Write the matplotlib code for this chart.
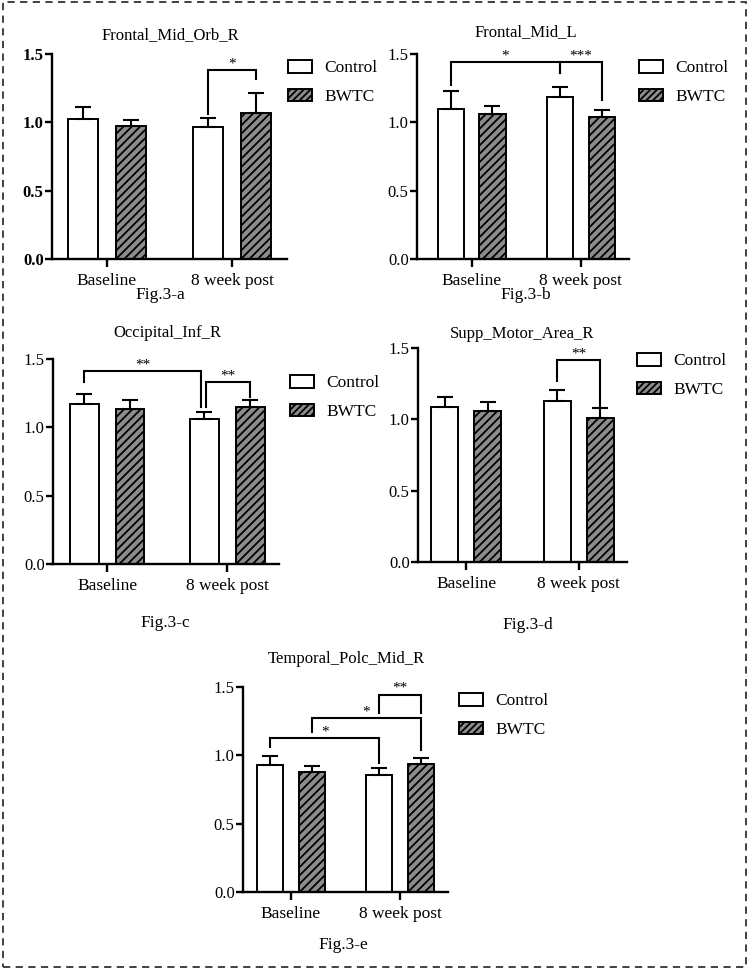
import matplotlib
matplotlib.use("Agg")
import matplotlib.pyplot as plt
from matplotlib.patches import Patch, Rectangle
import numpy as np

plt.rcParams['font.family'] = ['Liberation Serif', 'DejaVu Serif']
plt.rcParams['hatch.linewidth'] = 1.3
plt.rcParams['hatch.color'] = 'black'

W, H = 749, 969

groups = ["Baseline", "8 week post"]
series = ["Control", "BWTC"]

titles = ["Frontal_Mid_Orb_R", "Frontal_Mid_L", "Occipital_Inf_R",
          "Supp_Motor_Area_R", "Temporal_Polc_Mid_R"]
fig_labels = ["Fig.3-a", "Fig.3-b", "Fig.3-c", "Fig.3-d", "Fig.3-e"]

control_mean = [[1.026, 0.966], [1.100, 1.188], [1.173, 1.061], [1.083, 1.130], [0.927, 0.856]]
control_err = [[0.084, 0.063], [0.130, 0.073], [0.073, 0.049], [0.072, 0.075], [0.066, 0.049]]
bwtc_mean = [[0.975, 1.068], [1.059, 1.040], [1.132, 1.149], [1.059, 1.012], [0.878, 0.939]]
bwtc_err = [[0.042, 0.144], [0.061, 0.051], [0.068, 0.049], [0.066, 0.066], [0.044, 0.044]]

yticks = [0.0, 0.5, 1.0, 1.5]

# significance brackets: (x_left, y_left, x_right, y_right, y_top, label)
brackets = [
    [(0.81, 1.06, 1.19, 1.317, 1.38, "*")],
    [(-0.19, 1.27, 0.81, 1.36, 1.44, "*"), (0.81, 1.36, 1.19, 1.164, 1.44, "***")],
    [(-0.19, 1.334, 0.785, 1.151, 1.412, "**"), (0.822, 1.151, 1.19, 1.22, 1.33, "**")],
    [(0.81, 1.27, 1.19, 1.09, 1.413, "**")],
    [(-0.19, 1.061, 0.81, 0.944, 1.127, "*"), (0.19, 1.17, 1.195, 1.041, 1.273, "*"),
     (0.81, 1.31, 1.19, 1.31, 1.444, "**")],
]

# layout in pixels: (left, right, top, bottom), xlim
boxes = [(52, 287, 54, 259), (417, 629, 54, 259), (53, 279, 359, 564),
         (418, 627, 348, 562), (243, 448, 687, 892)]
xlims = [(-0.44, 1.44), (-0.50, 1.44), (-0.45, 1.43), (-0.43, 1.43), (-0.44, 1.44)]
title_pos = [(170, 35), (526, 32), (167, 333), (522, 334), (346, 659)]
figlab_pos = [(160, 295), (526, 295), (165, 623), (528, 625), (343, 945)]
legend_pos = [(288, 71), (639, 71), (290, 386), (637, 364), (459, 704)]

fig = plt.figure(figsize=(W / 100, H / 100), dpi=100)

def fx(x):
    return x / W

def fy(y):
    return 1 - y / H

offset = 0.19
width = 0.24
gray = '#8c8c8c'

for i in range(5):
    l, r, t, b = boxes[i]
    ax = fig.add_axes([fx(l), fy(b), (r - l) / W, (b - t) / H])
    xg = np.arange(len(groups))
    bold = (i == 0)
    ax.bar(xg - offset, control_mean[i], width, color='white', edgecolor='black',
           linewidth=1.4, zorder=2)
    ax.bar(xg + offset, bwtc_mean[i], width, color=gray, edgecolor='black',
           linewidth=1.4, hatch='////', zorder=2)
    ax.errorbar(xg - offset, control_mean[i], yerr=[np.zeros(2), control_err[i]],
                fmt='none', ecolor='black', elinewidth=1.5, capsize=6, capthick=1.5, zorder=3)
    ax.errorbar(xg + offset, bwtc_mean[i], yerr=[np.zeros(2), bwtc_err[i]],
                fmt='none', ecolor='black', elinewidth=1.5, capsize=6, capthick=1.5, zorder=3)
    for (x1, y1, x2, y2, yt, lab) in brackets[i]:
        ax.plot([x1, x1, x2, x2], [y1, yt, yt, y2], color='black', lw=1.5,
                solid_joinstyle='miter', clip_on=False, zorder=4)
        ax.annotate(lab, xy=((x1 + x2) / 2, yt), xytext=(0, 2), textcoords='offset points',
                    ha='center', va='baseline', fontsize=11, clip_on=False)
    ax.set_xlim(*xlims[i])
    ax.set_ylim(0, 1.5)
    ax.set_yticks(yticks)
    ax.set_yticklabels([f"{v:.1f}" for v in yticks], fontsize=12,
                       fontweight='bold' if bold else 'normal')
    ax.set_xticks(xg)
    ax.set_xticklabels(groups, fontsize=12.5)
    for s in ['top', 'right']:
        ax.spines[s].set_visible(False)
    for s in ['left', 'bottom']:
        ax.spines[s].set_linewidth(1.7)
    ax.tick_params(axis='y', length=5, width=1.7, pad=1)
    ax.tick_params(axis='x', length=6, width=1.7, pad=4)
    fig.text(fx(title_pos[i][0]), fy(title_pos[i][1]), titles[i], ha='center', va='center',
             fontsize=12)
    fig.text(fx(figlab_pos[i][0]), fy(figlab_pos[i][1]), fig_labels[i], ha='center',
             va='center', fontsize=12.5)
    handles = [Patch(facecolor='white', edgecolor='black', linewidth=1.4, label=series[0]),
               Patch(facecolor=gray, edgecolor='black', linewidth=1.4, hatch='/////',
                     label=series[1])]
    lx, ly = legend_pos[i]
    fig.legend(handles=handles, loc='upper left', bbox_to_anchor=(fx(lx), fy(ly - 11)),
               bbox_transform=fig.transFigure, frameon=False, fontsize=12.5,
               borderpad=0, borderaxespad=0, handlelength=1.4, handleheight=0.75,
               handletextpad=0.7, labelspacing=0.7)

border = Rectangle((fx(3), fy(967)), fx(746) - fx(3), fy(2) - fy(967),
                   transform=fig.transFigure, fill=False, edgecolor='#333333',
                   linewidth=1.3, linestyle=(0, (4, 3)))
fig.patches.append(border)

fig.savefig("out.png", dpi=100)
